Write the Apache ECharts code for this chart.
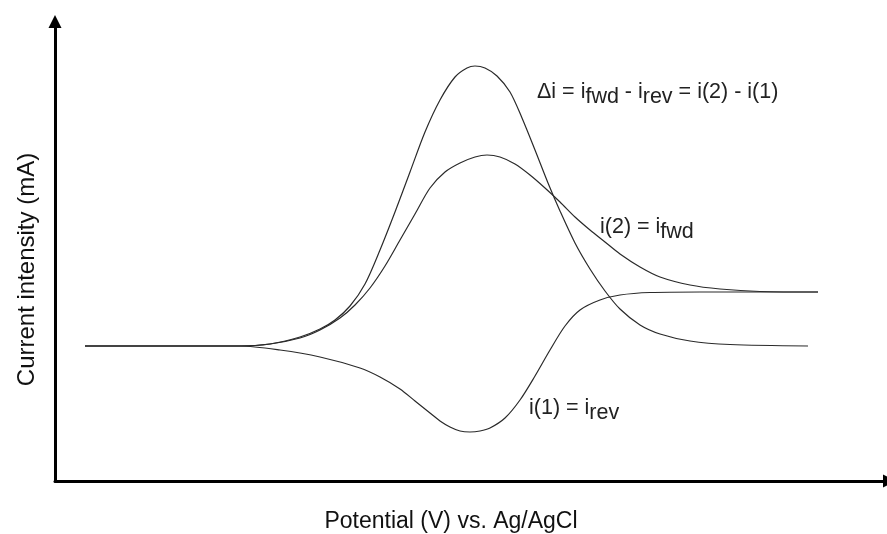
<!DOCTYPE html>
<html><head><meta charset="utf-8">
<script src="https://cdn.jsdelivr.net/npm/echarts@6/dist/echarts.min.js"></script>
<style>html,body{margin:0;padding:0;background:#fff}#c{width:887px;height:534px}</style>
</head><body><div id="c"></div>
<script>
// Potential (arbitrary units along x) and current (arbitrary units)
const fwdE  = [30,185,215,245,265,285,300,315,330,345,360,375,390,405,420,432,445,460,475,490,505,520,535,550,565,585,605,635,665,705,763];
const fwdI  = [135,135,137,143,151,163,176,193,215,241,267,293,309,318,324,326,324,317,306,293,279,264,251,239,227,214,204,196,192,189.5,189];
const revE  = [30,185,225,265,305,325,345,360,375,385,395,405,415,425,435,450,465,480,495,510,525,545,565,595,645,763];
const revI  = [135,135,131,124,113,104,92,80,68,60,54,50,49,50,53,63,81,105,131,155,171,181,186,188.5,189,189];
const diffE = [30,185,215,245,265,280,295,310,325,340,355,370,385,400,412,420,430,442,455,467,480,493,505,520,535,550,565,585,605,635,675,753];
const diffI = [135,135,137,144,152,161,175,197,231,269,309,349,381,404,413,415,413,405,389,363,331,298,270,238,212,190,172,156,147,140,136.5,135];

const xTitle = 'Potential (V) vs. Ag/AgCl';
const yTitle = 'Current intensity (mA)';

const pairs = (xs, ys) => xs.map((x, i) => [x, ys[i]]);
const FONT = '"Liberation Sans", Arial, Helvetica, sans-serif';
const lineStyle = { color: '#2a2a2a', width: 1.2 };
const axisLine = {
  show: true,
  symbol: ['none', 'triangle'],
  symbolSize: [13, 13],
  symbolOffset: [0, 6.5],
  lineStyle: { color: '#000', width: 3 }
};
const sub = { fontSize: 21.5, fontFamily: FONT, fill: '#222', padding: [10, 0, 0, 0] };

const chart = echarts.init(document.getElementById('c'), null, { renderer: 'canvas' });
chart.setOption({
  animation: false,
  backgroundColor: '#fff',
  grid: { left: 55, right: 4, top: 28, bottom: 53, containLabel: false, outerBoundsMode: 'none' },
  xAxis: {
    type: 'value', min: 0, max: 828,
    axisLine: axisLine, axisTick: { show: false }, axisLabel: { show: false }, splitLine: { show: false },
    name: xTitle, nameLocation: 'middle', nameGap: 29,
    nameTextStyle: { fontSize: 23, fontFamily: FONT, color: '#111', padding: [0, 36, 0, 0] }
  },
  yAxis: {
    type: 'value', min: 0, max: 453,
    axisLine: axisLine, axisTick: { show: false }, axisLabel: { show: false }, splitLine: { show: false },
    name: yTitle, nameLocation: 'middle', nameGap: 16,
    nameTextStyle: { fontSize: 24, fontFamily: FONT, color: '#111', padding: [0, 30, 0, 0] }
  },
  series: [
    { type: 'line', name: 'i(2) = i_fwd', data: pairs(fwdE, fwdI), smooth: 0.3, symbol: 'none', lineStyle },
    { type: 'line', name: 'i(1) = i_rev', data: pairs(revE, revI), smooth: 0.3, symbol: 'none', lineStyle },
    { type: 'line', name: 'Δi', data: pairs(diffE, diffI), smooth: 0.3, symbol: 'none', lineStyle }
  ],
  graphic: [
    { type: 'text', x: 537, y: 92.5, style: { text: 'Δi = i{s|fwd} - i{s|rev} = i(2) - i(1)', fontSize: 21.5, fontFamily: FONT, fill: '#222', verticalAlign: 'middle', rich: { s: sub } } },
    { type: 'text', x: 600, y: 227.5, style: { text: 'i(2) = i{s|fwd}', fontSize: 21.5, fontFamily: FONT, fill: '#222', verticalAlign: 'middle', rich: { s: sub } } },
    { type: 'text', x: 529, y: 408.5, style: { text: 'i(1) = i{s|rev}', fontSize: 21.5, fontFamily: FONT, fill: '#222', verticalAlign: 'middle', rich: { s: sub } } }
  ]
});
</script></body></html>
